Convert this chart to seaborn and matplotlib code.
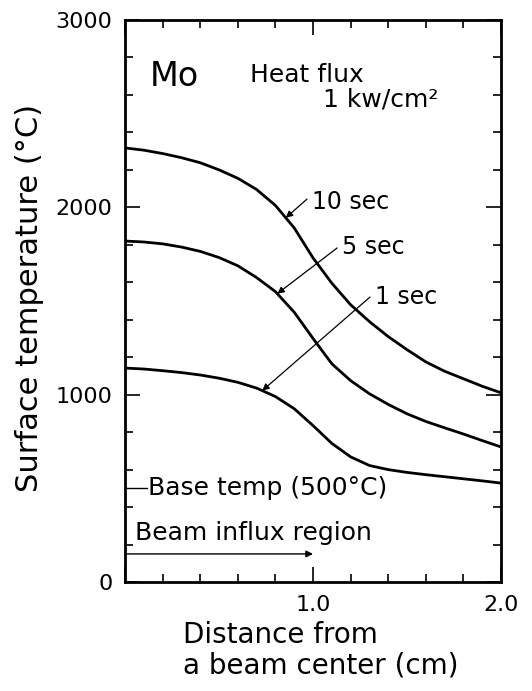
import numpy as np
import pandas as pd
import matplotlib
matplotlib.use("Agg")
import matplotlib.pyplot as plt
import seaborn as sns

# Distance from the beam centre (cm)
distance = [0.0, 0.1, 0.2, 0.3, 0.4, 0.5, 0.6, 0.7, 0.8, 0.9, 1.0,
            1.1, 1.2, 1.3, 1.4, 1.5, 1.6, 1.7, 1.8, 1.9, 2.0]

# Surface temperature (deg C) of Mo after each irradiation time
temp_10s = [2317, 2305, 2287, 2265, 2238, 2200, 2155, 2095, 2010, 1890, 1730,
            1595, 1480, 1390, 1310, 1240, 1175, 1125, 1085, 1045, 1010]
temp_5s = [1820, 1815, 1805, 1788, 1765, 1732, 1688, 1625, 1550, 1440, 1300,
           1165, 1075, 1005, 948, 898, 857, 823, 790, 755, 721]
temp_1s = [1142, 1137, 1128, 1118, 1105, 1088, 1066, 1035, 990, 925, 835,
           740, 668, 622, 600, 585, 573, 562, 551, 540, 528]

durations = ["10 sec", "5 sec", "1 sec"]
base_temp = 500
beam_region = (0.0, 1.0)

x_ticks = [0, 1, 2]
x_tick_labels = ["", "1.0", "2.0"]
y_ticks = [0, 1000, 2000, 3000]
y_tick_labels = ["0", "1000", "2000", "3000"]

df = pd.concat([
    pd.DataFrame({"distance": distance, "temperature": t, "duration": d})
    for d, t in zip(durations, [temp_10s, temp_5s, temp_1s])
])

sns.set_style("ticks")
plt.rcParams["font.family"] = ["DejaVu Sans"]
plt.rcParams["text.color"] = "black"
plt.rcParams["axes.labelcolor"] = "black"

fig = plt.figure(figsize=(5.32, 6.91), dpi=100)
ax = fig.add_axes([0.235, 0.1577, 0.7068, 0.8134])

sns.lineplot(data=df, x="distance", y="temperature", hue="duration",
             palette=["black"] * 3, legend=False, lw=2.0, ax=ax)

ax.set_xlim(0, 2)
ax.set_ylim(0, 3000)
ax.set_xticks(x_ticks)
ax.set_xticklabels(x_tick_labels)
ax.set_yticks(y_ticks)
ax.set_yticklabels(y_tick_labels)
ax.set_xticks(np.arange(0, 2.01, 0.2), minor=True)
ax.set_yticks(np.arange(0, 3001, 200), minor=True)
ax.tick_params(which="both", direction="in", top=True, right=True,
               width=1.2, color="black", labelsize=16, labelcolor="black")
ax.tick_params(which="major", length=11, pad=9)
ax.tick_params(which="minor", length=6)
for sp in ax.spines.values():
    sp.set_linewidth(2.0)
    sp.set_color("black")

ax.set_ylabel("Surface temperature (°C)", fontsize=22, va="center")
ax.yaxis.set_label_coords(-0.253, 0.505)
ax.set_xlabel("Distance from\na beam center (cm)", fontsize=20,
              ha="left", va="top", multialignment="left", linespacing=1.1)
ax.xaxis.set_label_coords(0.154, -0.069)

# Header texts
ax.text(0.133, 2696, "Mo", fontsize=24, ha="left", va="center")
ax.text(0.665, 2706, "Heat flux", fontsize=18, ha="left", va="center")
ax.text(1.053, 2573, "1 kw/cm²", fontsize=18, ha="left", va="center")

# Curve labels with leader arrows
arrow_kw = dict(arrowstyle="-|>", lw=0.9, color="black",
                mutation_scale=10, shrinkA=0, shrinkB=0)
labels = [
    ("10 sec", temp_10s, (0.995, 2028), (0.968, 2044), 0.855),
    ("5 sec", temp_5s, (1.154, 1788), (1.128, 1783), 0.81),
    ("1 sec", temp_1s, (1.33, 1521), (1.303, 1521), 0.73),
]
for text, series, text_pos, start, tip_x in labels:
    tip_y = np.interp(tip_x, distance, series)
    ax.annotate("", xy=(tip_x, tip_y), xytext=start, arrowprops=arrow_kw)
    ax.text(*text_pos, text, fontsize=17, ha="left", va="center")

# Base temperature marker
ax.plot([0, 0.117], [base_temp, base_temp], color="black", lw=1.0)
ax.text(0.12, base_temp, "Base temp (500°C)", fontsize=18,
        ha="left", va="center")

# Beam influx region
ax.annotate("", xy=(beam_region[1], 150), xytext=(beam_region[0], 150),
            arrowprops=dict(arrowstyle="-|>", lw=1.0, color="black",
                            mutation_scale=10, shrinkA=0, shrinkB=0))
ax.text(0.053, 262, "Beam influx region", fontsize=18,
        ha="left", va="center")

fig.savefig("out.png", dpi=100)
